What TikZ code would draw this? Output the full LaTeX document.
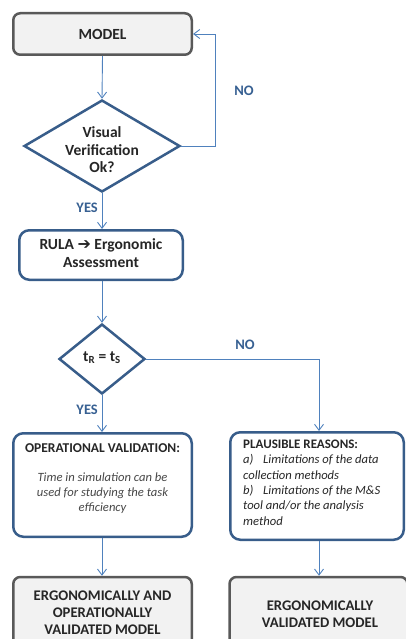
\documentclass[tikz,border=0pt]{standalone}
\usepackage{fontspec}
\setmainfont{Carlito}
\newfontfamily\djv{DejaVu Sans}
\usetikzlibrary{arrows.meta,shapes.geometric}
\definecolor{bord}{HTML}{385D8A}
\definecolor{arr}{HTML}{4F81BD}
\definecolor{lab}{HTML}{376092}
\definecolor{gbord}{HTML}{595959}
\definecolor{gfill}{HTML}{F2F2F2}
\definecolor{txt}{HTML}{262626}
\begin{document}
\begin{tikzpicture}[x=1pt,y=-1pt,
 graybox/.style={draw=gbord, fill=gfill, line width=2.5pt, rounded corners=7pt, inner sep=0pt},
 bluebox/.style={draw=bord, fill=white, line width=2.5pt, rounded corners=10pt, inner sep=0pt},
 diam/.style={draw=bord, fill=white, line width=2.5pt, diamond, inner sep=0pt},
 lbl/.style={text=txt, font=\bfseries\fontsize{15.5}{17.5}\selectfont, align=center, inner sep=0pt},
 sml/.style={text=txt, font=\bfseries\fontsize{14.7}{17}\selectfont, align=center, inner sep=0pt},
 itx/.style={text=txt!85, font=\itshape\fontsize{12.6}{15}\selectfont, align=center, inner sep=0pt},
 yn/.style={text=lab, font=\bfseries\fontsize{14.5}{17}\selectfont, inner sep=0pt},
 conn/.style={draw=arr, line width=0.9pt, -{Straight Barb[length=6pt,width=9pt]}},
]
\useasboundingbox (0,0) rectangle (406,639);
\clip (0,0) rectangle (406,639);

% boxes
\node[graybox, minimum width=178.5pt, minimum height=41.5pt] (model) at (102.5,34) {};
\node[lbl] (modelt) at (102.5,34) {MODEL};

\node[diam, minimum width=156pt, minimum height=92pt] (d1) at (102,146) {};
\node[lbl] (d1t) at (102,150) {Visual\\Verification\\Ok?};

\node[bluebox, minimum width=163.5pt, minimum height=49.5pt] (rula) at (101,255) {};
\node[lbl, font=\bfseries\fontsize{15.5}{18}\selectfont] (rulat) at (101,253) {RULA {\djv\fontsize{16}{17}\selectfont ➔} Ergonomic\\Assessment};

\node[diam, minimum width=86pt, minimum height=70pt] (d2) at (102,359) {};
\node[lbl] (d2t) at (102,358) {t\textsubscript{R} = t\textsubscript{S}};

\node[bluebox, minimum width=178.5pt, minimum height=103.5pt] (opv) at (102.5,485) {};
\node[sml, font=\bfseries\fontsize{13.5}{17}\selectfont] (opvh) at (102.5,448) {OPERATIONAL VALIDATION:};
\node[itx] (opvt) at (102.5,493) {Time in simulation can be\\used for studying the task\\efficiency};

\node[graybox, minimum width=178.5pt, minimum height=84pt] (fl) at (102.5,619) {};
\node[sml] (flt) at (102.5,613) {ERGONOMICALLY AND\\OPERATIONALLY\\VALIDATED MODEL};

\node[bluebox, minimum width=173.5pt, minimum height=107.5pt] (plaus) at (317,486) {};
\node[text=txt, align=left, inner sep=0pt, anchor=west, font=\fontsize{12.6}{15.4}\selectfont] (plaust) at (243,482.5)
 {{\bfseries\fontsize{13}{15.4}\selectfont PLAUSIBLE REASONS:}\\
  \itshape\makebox[20pt][l]{a)}Limitations of the data\\
  \itshape collection methods\\
  \itshape\makebox[20pt][l]{b)}Limitations of the M\&S\\
  \itshape tool and/or the analysis\\
  \itshape method};

\node[graybox, minimum width=178pt, minimum height=84pt] (fr) at (318.5,619) {};
\node[sml] (frt) at (320,614.5) {ERGONOMICALLY\\VALIDATED MODEL};

% labels
\node[yn] (no1) at (244,91) {NO};
\node[yn, anchor=east] (yes1) at (98,208) {YES};
\node[yn] (no2) at (245,345) {NO};
\node[yn, anchor=east] (yes2) at (98,410) {YES};

% connectors
\coordinate (bend1) at (215,146);
\coordinate (bend2) at (319,359);
\draw[conn] (model.south) -- (d1.north);
\draw[conn] (d1.east) -- (bend1) -- (bend1 |- model.east) -- (model.east);
\draw[conn] (d1.south) -- (d1.south |- rula.north);
\draw[conn] (rula.south -| d2.north) -- (d2.north);
\draw[conn] (d2.east) -- (bend2) -- (bend2 |- plaus.north);
\draw[conn] (d2.south) -- (d2.south |- opv.north);
\draw[conn] (opv.south -| d2.south) -- (d2.south |- fl.north);
\draw[conn] (bend2 |- plaus.south) -- (bend2 |- fr.north);
\end{tikzpicture}
\end{document}
